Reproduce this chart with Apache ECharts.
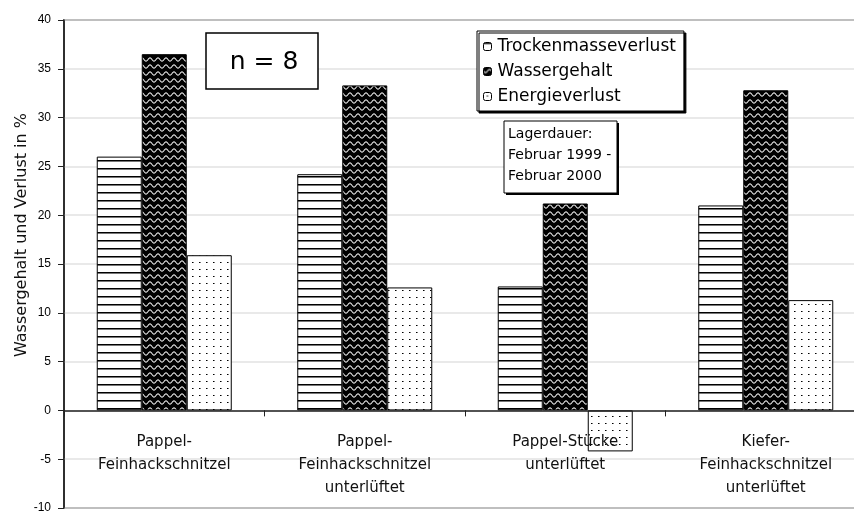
<!DOCTYPE html>
<html>
<head>
<meta charset="utf-8">
<script src="https://cdn.jsdelivr.net/npm/echarts@6/dist/echarts.min.js"></script>
<style>
html,body{margin:0;padding:0;background:#fff;}
#chart{width:854px;height:513px;}
</style>
</head>
<body>
<div id="chart"></div>
<script>
// ---- data ----
var categories = [
  'Pappel-\nFeinhackschnitzel',
  'Pappel-\nFeinhackschnitzel\nunterlüftet',
  'Pappel-Stücke\nunterlüftet',
  'Kiefer-\nFeinhackschnitzel\nunterlüftet'
];
var seriesNames = ['Trockenmasseverlust', 'Wassergehalt', 'Energieverlust'];
var trockenmasseverlust = [26.0, 24.2, 12.7, 21.0];
var wassergehalt = [36.5, 33.3, 21.2, 32.8];
var energieverlust = [15.9, 12.6, -4.2, 11.3];
var yTicks = { min: -10, max: 40, interval: 5 };
var yAxisName = 'Wassergehalt und Verlust in %';
var noteN = 'n = 8';
var noteLager = 'Lagerdauer:\nFebruar 1999 -\nFebruar 2000';

// ---- patterns ----
function hatchPattern() {
  var c = document.createElement('canvas'); c.width = 8; c.height = 8;
  var g = c.getContext('2d');
  g.fillStyle = '#fff'; g.fillRect(0, 0, 8, 8);
  g.fillStyle = '#000'; g.fillRect(0, 0, 8, 1);
  g.fillStyle = '#777'; g.fillRect(0, 1, 8, 1);
  return c;
}
function wavePattern() {
  var c = document.createElement('canvas'); c.width = 8; c.height = 7;
  var g = c.getContext('2d');
  g.fillStyle = '#000'; g.fillRect(0, 0, 8, 7);
  g.strokeStyle = '#e8e8e8'; g.lineWidth = 1.1;
  g.beginPath();
  for (var x = -1; x <= 9; x += 0.5) {
    var y = 3.5 + 1.6 * Math.sin(2 * Math.PI * x / 8);
    if (x === -1) g.moveTo(x, y); else g.lineTo(x, y);
  }
  g.stroke();
  return c;
}
function dotPattern() {
  var c = document.createElement('canvas'); c.width = 7; c.height = 7;
  var g = c.getContext('2d');
  g.fillStyle = '#fff'; g.fillRect(0, 0, 7, 7);
  g.fillStyle = '#000'; g.fillRect(3, 3, 1, 1);
  g.fillStyle = '#777'; g.fillRect(4, 3, 1, 1);
  return c;
}
var fills = [
  { image: hatchPattern(), repeat: 'repeat' },
  { image: wavePattern(), repeat: 'repeat' },
  { image: dotPattern(), repeat: 'repeat' }
];
var values = [trockenmasseverlust, wassergehalt, energieverlust];

var chart = echarts.init(document.getElementById('chart'), null, { renderer: 'canvas' });
var FONT = 'DejaVu Sans';

var series = seriesNames.map(function (name, i) {
  return {
    name: name,
    type: 'bar',
    data: values[i],
    barWidth: 45,
    barGap: '0%',
    itemStyle: { color: fills[i], borderColor: '#000', borderWidth: 1 },
    emphasis: { disabled: true }
  };
});

chart.setOption({
  animation: false,
  backgroundColor: '#fff',
  grid: {
    left: 64, right: -12, top: 20, bottom: 5,
    outerBoundsMode: 'none', containLabel: false,
    show: true, borderColor: '#222', borderWidth: 1.5, backgroundColor: 'transparent'
  },
  legend: {
    orient: 'vertical',
    left: 477, top: 31,
    padding: [7, 8, 6, 6],
    itemWidth: 8, itemHeight: 8, itemGap: 8,
    backgroundColor: '#fff', borderColor: '#000', borderWidth: 1,
    shadowColor: '#000', shadowBlur: 0, shadowOffsetX: 2, shadowOffsetY: 2,
    textStyle: { fontFamily: FONT, fontSize: 17, color: '#000', lineHeight: 17, padding: [0, 0, 0, 1] },
    itemStyle: { borderColor: '#000', borderWidth: 1 },
    data: seriesNames
  },
  xAxis: {
    type: 'category',
    data: categories,
    z: 5,
    axisLine: { onZero: true, lineStyle: { color: '#222', width: 1.5 } },
    axisTick: { show: true, inside: false, length: 6, lineStyle: { color: '#222' } },
    axisLabel: {
      show: true, fontFamily: FONT, fontSize: 15, color: '#111', lineHeight: 23, margin: -77, interval: 0,
      verticalAlign: 'top', hideOverlap: false
    },
    splitLine: { show: false }
  },
  yAxis: {
    type: 'value',
    min: yTicks.min, max: yTicks.max, interval: yTicks.interval,
    axisLine: { show: true, lineStyle: { color: '#222', width: 1.5 } },
    axisTick: { show: true, inside: false, length: 6, lineStyle: { color: '#222' } },
    axisLabel: { fontFamily: 'Liberation Sans', fontSize: 12, color: '#000', margin: 13 },
    splitLine: { show: true, lineStyle: { color: '#e2e2e2', width: 1.5 } }
  },
  graphic: [
    {
      type: 'text', z: 10,
      x: 22, y: 235, rotation: Math.PI / 2,
      style: { text: yAxisName, fontFamily: FONT, fontSize: 16, fill: '#111', align: 'center', verticalAlign: 'middle' }
    },
    {
      type: 'rect', z: 10,
      shape: { x: 206, y: 33, width: 112, height: 56 },
      style: { fill: '#fff', stroke: '#000', lineWidth: 1.5 }
    },
    {
      type: 'text', z: 11,
      x: 264, y: 62,
      style: { text: noteN, fontFamily: FONT, fontSize: 25, fill: '#000', align: 'center', verticalAlign: 'middle' }
    },
    {
      type: 'rect', z: 10,
      shape: { x: 506, y: 123, width: 113, height: 72 },
      style: { fill: '#000' }
    },
    {
      type: 'rect', z: 10,
      shape: { x: 504, y: 121, width: 113, height: 72 },
      style: { fill: '#fff', stroke: '#000', lineWidth: 1 }
    },
    {
      type: 'text', z: 11,
      x: 508, y: 124,
      style: { text: noteLager, fontFamily: FONT, fontSize: 14, lineHeight: 21, fill: '#000', align: 'left', verticalAlign: 'top' }
    }
  ],
  series: series
});
</script>
</body>
</html>
